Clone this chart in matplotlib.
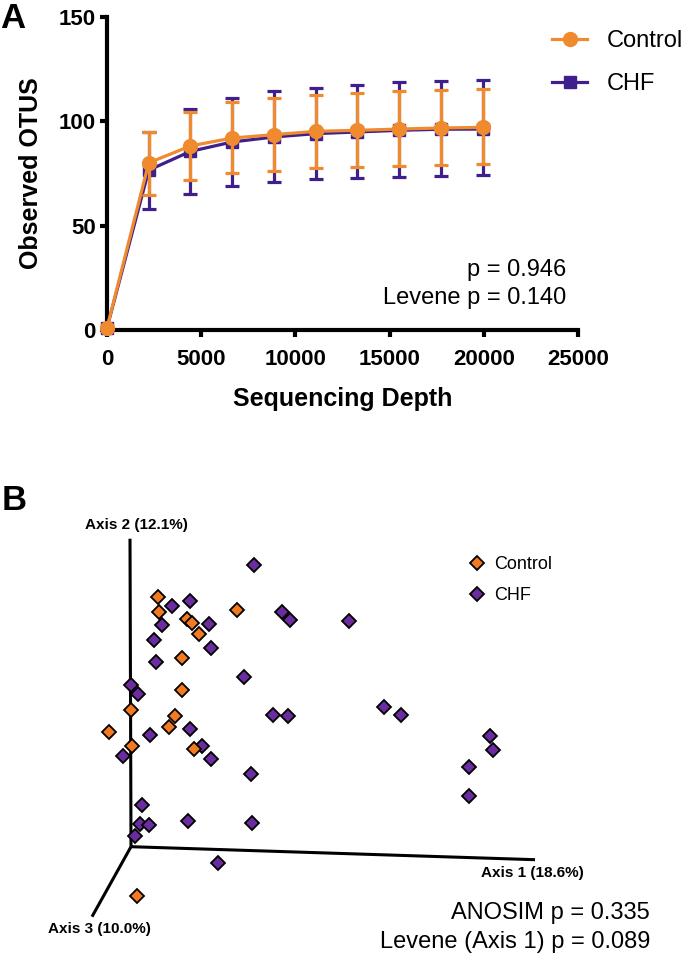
import matplotlib
matplotlib.use("Agg")
import matplotlib.pyplot as plt
from matplotlib.lines import Line2D

plt.rcParams['font.family'] = ['Liberation Sans', 'DejaVu Sans']

# Panel A: rarefaction curves
depth = [0, 2215, 4430, 6645, 8860, 11075, 13290, 15505, 17720, 19935]
ctrl_mean = [1, 80.1, 88.2, 92.0, 93.6, 95.2, 95.7, 96.3, 96.8, 97.1]
ctrl_low = [1, 64.9, 71.8, 75.0, 76.2, 77.7, 78.3, 78.6, 79.3, 79.4]
ctrl_high = [1, 94.9, 104.5, 109.1, 111.2, 112.4, 113.6, 114.4, 114.8, 115.3]
chf_mean = [1, 76.6, 85.6, 90.1, 92.5, 94.1, 94.9, 95.7, 96.2, 96.3]
chf_low = [1, 57.9, 65.4, 68.9, 70.8, 72.4, 73.0, 73.5, 73.8, 74.3]
chf_high = [1, 95.0, 105.9, 111.3, 114.7, 116.1, 117.5, 119.0, 119.1, 119.6]
x_ticks = [0, 5000, 10000, 15000, 20000, 25000]
y_ticks = [0, 50, 100, 150]

# Panel B: PCoA projection (screen coords relative to axis origin)
ctrl_u = [27, 28, 106, 56, 61, 68, 51, 51, 0, 44, 38, -22, 1, 63, 6]
ctrl_v = [250, 235, 237, 228, 224, 213, 189, 157, 137, 131, 120, 115, 101, 98, -49]
chf_u = [123, 41, 59, 151, 159, 31, 78, 23, 80, 25, 113, 0, 7, 142, 157, 59, 19,
         71, -8, 80, 120, 11, 9, 18, 57, 121, 4, 87, 218, 253, 270, 359, 362, 338, 338]
chf_v = [282, 241, 246, 235, 227, 222, 223, 207, 199, 185, 170, 162, 153, 132, 131, 118, 112,
         101, 91, 88, 73, 42, 23, 22, 26, 24, 11, -16, 226, 140, 132, 111, 97, 80, 51]
axis_names = ['Axis 1 (18.6%)', 'Axis 2 (12.1%)', 'Axis 3 (10.0%)']
axis_end_u = [404, -1, -39]
axis_end_v = [-13, 308, -70]

orange_a = '#F08A2E'
purple_a = '#3E1F8C'
orange_b = '#F47A22'
purple_b = '#6A2C9F'

fig = plt.figure(figsize=(6.85, 9.6), dpi=100)

# ---- panel A
axA = fig.add_axes([107 / 685, 1 - 330 / 960, (578 - 107) / 685, (330 - 17) / 960])
err_chf = [[m - l for m, l in zip(chf_mean, chf_low)], [h - m for m, h in zip(chf_mean, chf_high)]]
err_ctrl = [[m - l for m, l in zip(ctrl_mean, ctrl_low)], [h - m for m, h in zip(ctrl_mean, ctrl_high)]]
axA.errorbar(depth, chf_mean, yerr=err_chf, color=purple_a, marker='s', ms=8.5, lw=2.3,
             elinewidth=2.3, capsize=4.8, capthick=2.3, clip_on=False, zorder=3)
axA.errorbar(depth, ctrl_mean, yerr=err_ctrl, color=orange_a, marker='o', ms=10, lw=2.3,
             elinewidth=2.3, capsize=4.8, capthick=2.3, clip_on=False, zorder=4)
axA.set_xlim(0, 25000)
axA.set_ylim(0, 150)
axA.set_xticks(x_ticks)
axA.set_yticks(y_ticks)
for s in ['top', 'right']:
    axA.spines[s].set_visible(False)
for s in ['left', 'bottom']:
    axA.spines[s].set_linewidth(3)
axA.tick_params(axis='y', width=3, length=5, pad=3, labelsize=16)
axA.tick_params(axis='x', width=3, length=5, pad=9, labelsize=16)
for lab in axA.get_xticklabels() + axA.get_yticklabels():
    lab.set_fontweight('bold')
axA.set_xlabel('Sequencing Depth', fontsize=18, fontweight='bold', labelpad=12)
axA.set_ylabel('Observed OTUS', fontsize=18, fontweight='bold', labelpad=11)
axA.text(0.975, 0.192, 'p = 0.946', transform=axA.transAxes, fontsize=17, ha='right', va='center')
axA.text(0.975, 0.102, 'Levene p = 0.140', transform=axA.transAxes, fontsize=17, ha='right', va='center')

hA = [Line2D([], [], color=orange_a, marker='o', ms=10, lw=2.3),
      Line2D([], [], color=purple_a, marker='s', ms=8.5, lw=2.3)]
fig.legend(hA, ['Control', 'CHF'], loc='upper left', bbox_to_anchor=(552 / 685, 1 - 30 / 960),
           frameon=False, fontsize=17, handlelength=1.5, handletextpad=0.8,
           labelspacing=0.9, borderpad=0, borderaxespad=0)

fig.text(13 / 685, 1 - 18 / 960, 'A', fontsize=25, fontweight='bold', ha='center', va='center')

# ---- panel B
axB = fig.add_axes([0, 0, 1, 0.5])
axB.set_xlim(-131, 685 - 131)
axB.set_ylim(846.7 - 960, 846.7 - 480)
axB.axis('off')
for eu, ev in zip(axis_end_u, axis_end_v):
    axB.plot([0, eu], [0, ev], color='black', lw=2.2, solid_capstyle='butt', zorder=1)
axB.plot(chf_u, chf_v, ls='none', marker='D', ms=7.4, mfc=purple_b, mec='black', mew=1.3, zorder=2)
axB.plot(ctrl_u, ctrl_v, ls='none', marker='D', ms=7.4, mfc=orange_b, mec='black', mew=1.3, zorder=3)

axB.text(5, 322, axis_names[1], fontsize=11, fontweight='bold', ha='center', va='center')
axB.text(401, -26, axis_names[0], fontsize=11, fontweight='bold', ha='center', va='center')
axB.text(-31.5, -82, axis_names[2], fontsize=11, fontweight='bold', ha='center', va='center')

hB = [Line2D([], [], ls='none', marker='D', ms=7.4, mfc=orange_b, mec='black', mew=1.3),
      Line2D([], [], ls='none', marker='D', ms=7.4, mfc=purple_b, mec='black', mew=1.3)]
fig.legend(hB, ['Control', 'CHF'], loc='upper left', bbox_to_anchor=(468 / 685, 1 - 556 / 960),
           frameon=False, fontsize=13, handlelength=1.0, handletextpad=0.42,
           labelspacing=0.8, borderpad=0, borderaxespad=0)

fig.text(650 / 685, 1 - 913 / 960, 'ANOSIM p = 0.335', fontsize=17, ha='right', va='center')
fig.text(650 / 685, 1 - 942 / 960, 'Levene (Axis 1) p = 0.089', fontsize=17, ha='right', va='center')
fig.text(14 / 685, 1 - 500 / 960, 'B', fontsize=25, fontweight='bold', ha='center', va='center')

fig.savefig('out.png', dpi=100)
